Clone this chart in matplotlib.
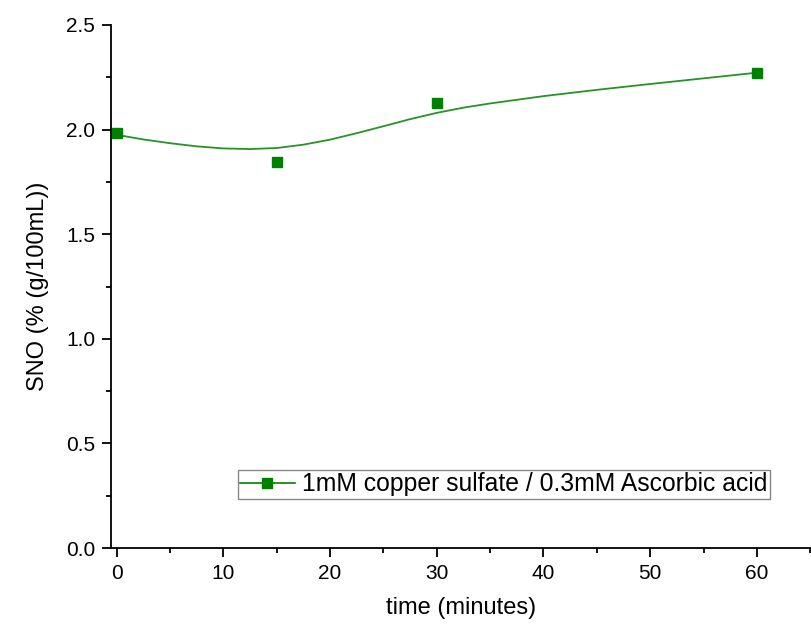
import matplotlib
matplotlib.use('Agg')
import matplotlib.pyplot as plt
from matplotlib.ticker import MultipleLocator

# datos medidos
time_min = [0, 15, 30, 60]
sno = [1.982, 1.847, 2.129, 2.272]

# curva suavizada
curve_x = [0, 2.5, 5, 7.5, 10, 12.5, 15, 17.5, 20, 22.5, 25, 27.5, 30, 32.5, 35, 40, 45, 50, 55, 60]
curve_y = [1.975, 1.953, 1.935, 1.920, 1.910, 1.907, 1.912, 1.928, 1.952, 1.983, 2.016, 2.050,
           2.080, 2.105, 2.125, 2.160, 2.190, 2.218, 2.245, 2.272]

label = '1mM copper sulfate / 0.3mM Ascorbic acid'
green = '#008000'

plt.rcParams['font.family'] = ['Liberation Sans', 'DejaVu Sans']

fig = plt.figure(figsize=(8.11, 6.26), dpi=100)
ax = fig.add_axes([111 / 811, 78 / 626, 700 / 811, 523 / 626])

line, = ax.plot(curve_x, curve_y, color=green, lw=1.3, alpha=0.85)
pts, = ax.plot(time_min, sno, ls='none', marker='s', ms=7.5, color=green)

ax.set_xlim(-0.53, 65.07)
ax.set_ylim(0, 2.5)
ax.xaxis.set_major_locator(MultipleLocator(10))
ax.xaxis.set_minor_locator(MultipleLocator(5))
ax.yaxis.set_major_locator(MultipleLocator(0.5))
ax.yaxis.set_minor_locator(MultipleLocator(0.25))
ax.yaxis.set_major_formatter(matplotlib.ticker.FormatStrFormatter('%.1f'))

for s in ['top', 'right']:
    ax.spines[s].set_visible(False)
for s in ['left', 'bottom']:
    ax.spines[s].set_linewidth(1.3)

ax.tick_params(which='major', direction='out', length=6.5, width=1.3, labelsize=15, pad=5)
ax.tick_params(which='minor', direction='out', length=3.8, width=1.3)

ax.set_xlabel('time (minutes)', fontsize=17, labelpad=10)
ax.set_ylabel('SNO (% (g/100mL))', fontsize=17, labelpad=12)

# entrada de la leyenda con línea y marcador juntos
h, = ax.plot([], [], color=green, lw=1.2, marker='s', ms=7.5)
leg = ax.legend([h], [label], loc='lower left', bbox_to_anchor=(0.181, 0.094),
                borderaxespad=0, fontsize=17.8, fancybox=False, framealpha=1,
                handlelength=2.2, handletextpad=0.3, borderpad=0.1)
leg.get_frame().set_edgecolor('#888888')
leg.get_frame().set_linewidth(1.0)

fig.savefig('out.png', dpi=100)
